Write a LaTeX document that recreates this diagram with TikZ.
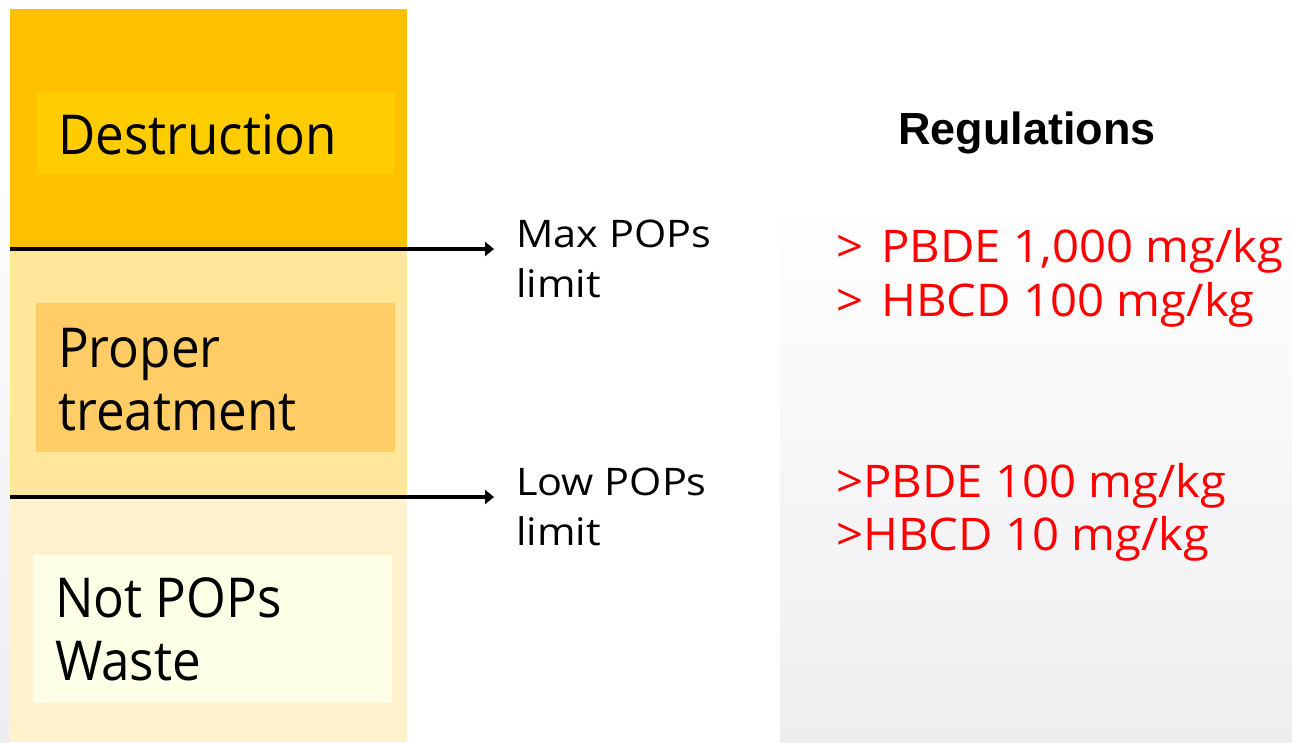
\documentclass[tikz,border=0pt]{standalone}
\usepackage{fontspec}
\setmainfont{Open Sans}
\newfontfamily\tierfont[FakeStretch=0.93]{Open Sans}
\newfontfamily\limitfont[FakeStretch=1.09]{Open Sans}
\newfontfamily\rulefont[FakeStretch=1.05]{Open Sans}
\newfontfamily\headfont{Liberation Sans}
\usetikzlibrary{arrows.meta}
\definecolor{deeporange}{HTML}{FFC000}
\definecolor{deepinner}{HTML}{FFCC00}
\definecolor{midband}{HTML}{FFE699}
\definecolor{midinner}{HTML}{FFCC66}
\definecolor{lowband}{HTML}{FFF2CC}
\definecolor{lowinner}{HTML}{FDFFE6}
\definecolor{panelgray}{HTML}{EEEEF1}
\definecolor{limitred}{HTML}{FF0000}
\tikzset{
  tierlabel/.style={anchor=base west, inner sep=0pt, align=left,
    font=\tierfont\fontsize{55}{63}\selectfont},
  limitlabel/.style={anchor=base west, inner sep=0pt, align=left,
    font=\limitfont\fontsize{38}{50}\selectfont},
  ruleline/.style={anchor=base west, inner sep=0pt, text=limitred,
    font=\rulefont\fontsize{45}{54}\selectfont},
  threshold/.style={line width=3.5pt, -{Triangle[length=9pt,width=14pt]}}
}
\begin{document}
\begin{tikzpicture}[x=1pt,y=-1pt]
  \useasboundingbox (0,0) rectangle (1292,742);
  \fill[white] (0,0) rectangle (1292,742);
  % faint grey backdrop on the right and along the left edge
  \shade[top color=white, bottom color=panelgray] (780,200) rectangle (1292,742);
  \shade[top color=white, bottom color=panelgray] (0,100) rectangle (10,742);
  % three stacked bands
  \fill[deeporange] (10,9) rectangle (407,250);
  \fill[midband] (10,250) rectangle (407,497);
  \fill[lowband] (10,497) rectangle (407,742);
  % inner boxes
  \fill[deepinner] (36,92) rectangle (395,175);
  \fill[midinner] (36,303) rectangle (395,452);
  \fill[lowinner] (33,555) rectangle (392,703);
  % tier labels (base anchor sits on the last line)
  \node[tierlabel] (destr) at (58,154) {Destruction};
  \node[tierlabel] (proper) at (58,430) {Proper\\treatment};
  \node[tierlabel] (notpops) at (55,680) {Not POPs\\Waste};
  % threshold lines
  \coordinate (maxstart) at (10,249);
  \coordinate (maxend) at (494,249);
  \coordinate (lowstart) at (10,497);
  \coordinate (lowend) at (494,497);
  \draw[threshold] (maxstart) -- (maxend);
  \draw[threshold] (lowstart) -- (lowend);
  \node[limitlabel] (maxlim) at (516,297) {Max POPs\\limit};
  \node[limitlabel] (lowlim) at (516,545) {Low POPs\\limit};
  % regulations column
  \node[anchor=base west, inner sep=0pt, font=\headfont\bfseries\fontsize{45}{50}\selectfont] (reg) at (898,144) {Regulations};
  \node[ruleline] (r1) at (836,262) {>\ \kern6pt PBDE 1,000 mg/kg};
  \node[ruleline] (r2) at (836,316) {>\ \kern6pt HBCD 100 mg/kg};
  \node[ruleline] (r3) at (836,497) {>PBDE 100 mg/kg};
  \node[ruleline] (r4) at (836,550) {>HBCD 10 mg/kg};
\end{tikzpicture}
\end{document}
